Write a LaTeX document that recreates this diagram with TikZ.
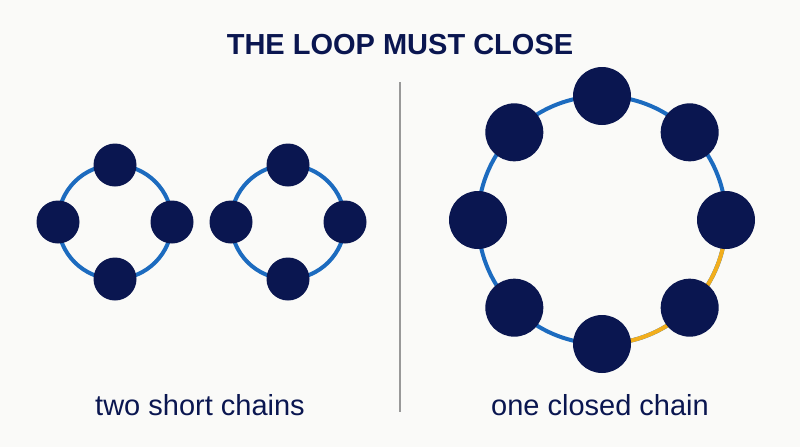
\documentclass[tikz,border=0pt]{standalone}
\usepackage{fontspec}
\setmainfont{Liberation Sans}
\usetikzlibrary{calc}
\begin{document}
\begin{tikzpicture}[x=1pt,y=-1pt,
  ring/.style={draw=ringblue,line width=4pt},
  bead/.style={circle,fill=navy,draw=none,inner sep=0pt},
  small/.style={bead,minimum size=43pt},
  big/.style={bead,minimum size=58pt},
  lbl/.style={text=navy,font=\fontsize{29}{32}\selectfont}]
\definecolor{navy}{HTML}{0A1650}
\definecolor{ringblue}{HTML}{1C6BBF}
\definecolor{gold}{HTML}{F2AE1C}
\definecolor{bg}{HTML}{FAFAF8}
\fill[bg] (0,0) rectangle (800,447);
\useasboundingbox (0,0) rectangle (800,447);
\node[text=navy,font=\bfseries\fontsize{29}{32}\selectfont] (title) at (400,45) {THE LOOP MUST CLOSE};
\coordinate (dtop) at (400,82); \coordinate (dbot) at (400,412);
\draw[gray!80,line width=1.5pt] (dtop) -- (dbot);
% left rings
\coordinate (c1) at (115,222);
\coordinate (c2) at (288,222);
\draw[ring] (c1) circle[radius=57];
\draw[ring] (c2) circle[radius=57];
\foreach \a [count=\i] in {0,90,180,270}{
  \node[small] (a\i) at ($(c1)+(\a:57)$) {};
  \node[small] (b\i) at ($(c2)+(\a:57)$) {};
}
% right ring
\coordinate (c3) at (602,220);
\draw[ring] (c3) circle[radius=124];
\draw[draw=gold,line width=4pt] ($(c3)+(0:124)$) arc[start angle=0,end angle=90,radius=124];
\foreach \a [count=\i] in {0,45,...,315}{
  \node[big] (r\i) at ($(c3)+(\a:124)$) {};
}
\node[lbl] (l1) at (200,405) {two short chains};
\node[lbl] (l2) at (600,405) {one closed chain};
\end{tikzpicture}
\end{document}
